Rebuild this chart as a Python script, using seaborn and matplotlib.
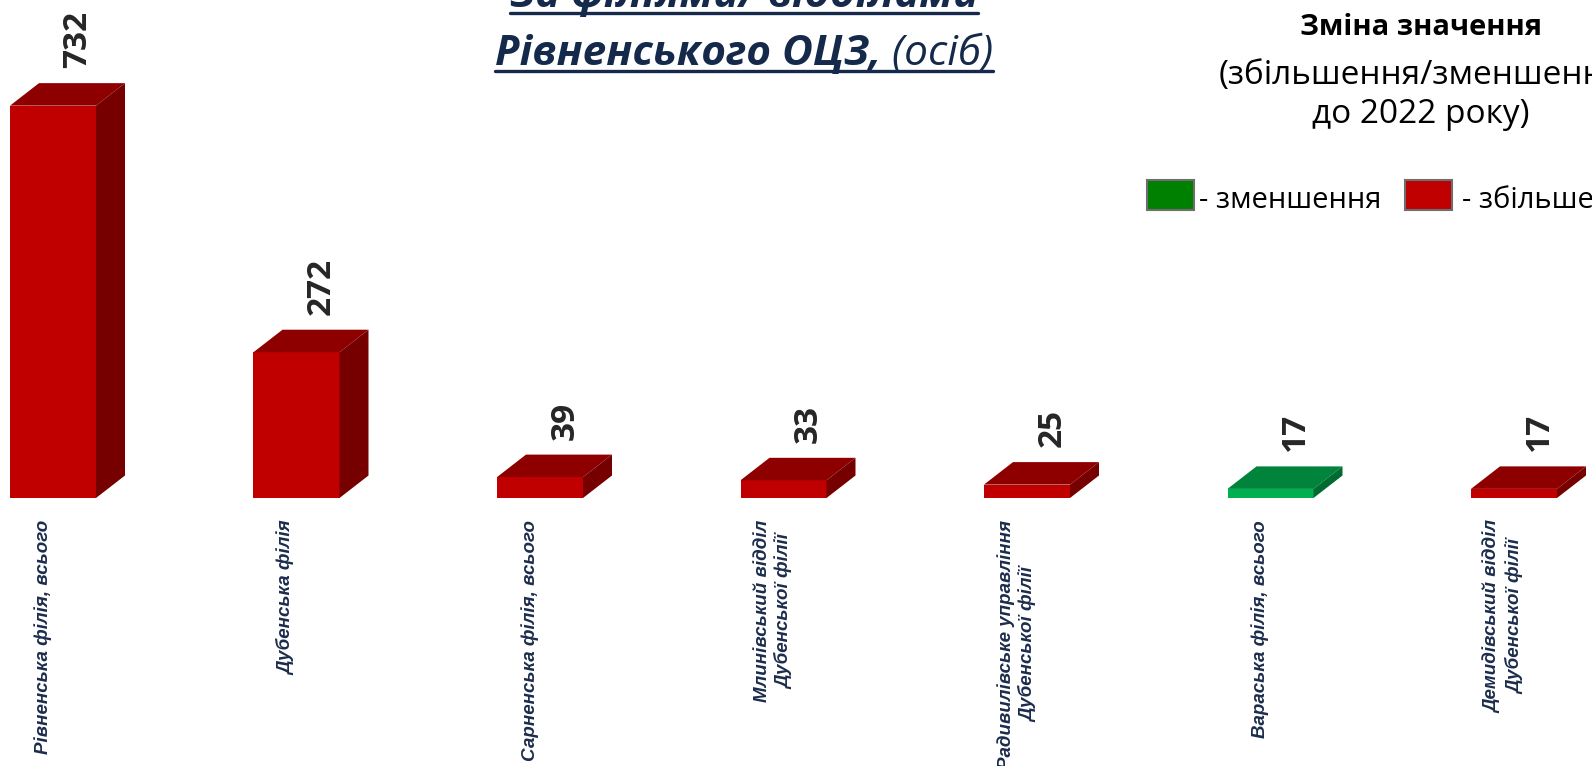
#!/usr/bin/env python3
# plot.py — 3D-look bar chart of changes by branch (Рівненський ОЦЗ)

import numpy as np
import pandas as pd
import seaborn as sns
import matplotlib.pyplot as plt
from matplotlib.patches import Polygon, Rectangle
from matplotlib.lines import Line2D

# --- 1. Data ---
categories = [
    "Рівненська філія, всього",
    "Дубенська філія",
    "Сарненська філія, всього",
    "Млинівський відділ\nДубенської філії",
    "Радивилівське управління\nДубенської філії",
    "Вараська філія, всього",
    "Демидівський відділ\nДубенської філії",
]
values = [732, 272, 39, 33, 25, 17, 17]
direction = ["up", "up", "up", "up", "up", "down", "up"]

title_line1 = "За філіями/ відділами"
title_line2_bold = "Рівненського ОЦЗ,"
title_line2_reg = " (осіб)"
legend_head = ["Зміна значення", "(збільшення/зменшення", "до 2022 року)"]
legend_items = ["- зменшення", "- збільшення"]

# --- 2. Styles ---
face = {"up": "#C00000", "down": "#00B050"}
top = {"up": "#8E0000", "down": "#00843C"}
side = {"up": "#760000", "down": "#006B30"}
navy = "#15294B"
label_col = "#1C2C4C"

W, H = 1592, 766
px_x = 243.5          # pixels per category step
px_y = 0.536          # pixels per unit of value
base_px = 498         # baseline, pixels from top
x0_px = 53            # first bar centre, pixels from left
depth_x, depth_y = 29, 22.5

sns.set_theme(style="white")
plt.rcParams["font.family"] = ["Open Sans", "DejaVu Sans"]

fig = plt.figure(figsize=(W / 100, H / 100), dpi=100)
ax = fig.add_axes([0, 0, 1, 1])

df = pd.DataFrame({"cat": categories, "val": values, "dir": direction})
sns.barplot(
    data=df, x="cat", y="val", hue="dir", palette=face,
    width=86 / px_x, saturation=1, legend=False, dodge=False, ax=ax,
    linewidth=0,
)

xmin = -x0_px / px_x
ax.set_xlim(xmin, xmin + W / px_x)
ymin = -(H - base_px) / px_y
ax.set_ylim(ymin, ymin + H / px_y)
ax.axis("off")

dx = depth_x / px_x
dy = depth_y / px_y

# --- 3. Top and side faces for the 3D look ---
for i, (v, d) in enumerate(zip(values, direction)):
    xl = i - 43 / px_x
    xr = i + 43 / px_x
    ax.add_patch(Polygon([(xl, v), (xr, v), (xr + dx, v + dy), (xl + dx, v + dy)],
                         closed=True, facecolor=top[d], edgecolor="none", zorder=3))
    ax.add_patch(Polygon([(xr, 0), (xr + dx, dy), (xr + dx, v + dy), (xr, v)],
                         closed=True, facecolor=side[d], edgecolor="none", zorder=3))
    # value label
    ax.text(i + 25 / px_x, v + dy + 15 / px_y, str(v), rotation=90,
            ha="center", va="bottom", fontsize=24, fontweight="bold",
            color="#262626")
    # category label
    ax.text(i - 10 / px_x, -22 / px_y, categories[i], rotation=90,
            ha="center", va="top", multialignment="center",
            fontsize=13.5, fontweight="bold", fontstyle="italic",
            family=["Liberation Sans", "DejaVu Sans"], color=label_col,
            linespacing=1.3)


def fx(p):
    return p / W


def fy(p):
    return 1 - p / H


# --- 4. Title with underline ---
renderer = fig.canvas.get_renderer()
tsize = 30.5
centre = 744

t1 = fig.text(fx(centre), fy(7), title_line1, ha="center", va="baseline",
              fontsize=tsize, fontweight="bold", fontstyle="italic", color=navy)
t2a = fig.text(0, fy(65), title_line2_bold, ha="left", va="baseline",
               fontsize=tsize, fontweight="bold", fontstyle="italic", color=navy)
t2b = fig.text(0, fy(65), title_line2_reg, ha="left", va="baseline",
               fontsize=tsize, fontstyle="italic", color=navy)
wa = t2a.get_window_extent(renderer).width
wb = t2b.get_window_extent(renderer).width
start = centre - (wa + wb) / 2
t2a.set_x(fx(start))
t2b.set_x(fx(start + wa))

bb = t1.get_window_extent(renderer)
for (xa, xb, yb) in [
    (bb.x0, bb.x1, 7),
    (start, start + wa + wb, 65),
]:
    fig.add_artist(Line2D([fx(xa), fx(xb)], [fy(yb + 6), fy(yb + 6)],
                          color=navy, lw=2.4, transform=fig.transFigure))

# --- 5. Legend block ---
lc = 1421
fig.text(fx(lc), fy(35), legend_head[0], ha="center", va="baseline",
         fontsize=21, fontweight="bold", color="black")
fig.text(fx(lc), fy(84), legend_head[1], ha="center", va="baseline",
         fontsize=24, color="black")
fig.text(fx(lc), fy(123), legend_head[2], ha="center", va="baseline",
         fontsize=24, color="black")

for (xs, col, txt, tx) in [
    (1147, "#008000", legend_items[0], 1199),
    (1405, "#C00000", legend_items[1], 1462),
]:
    fig.add_artist(Rectangle((fx(xs), fy(210)), 47 / W, 30 / H,
                             facecolor=col, edgecolor="#6E6E6E", lw=1.5,
                             transform=fig.transFigure))
    fig.text(fx(tx), fy(208), txt, ha="left", va="baseline",
             fontsize=21, color="black")

fig.savefig("out.png", dpi=100)
plt.close(fig)
